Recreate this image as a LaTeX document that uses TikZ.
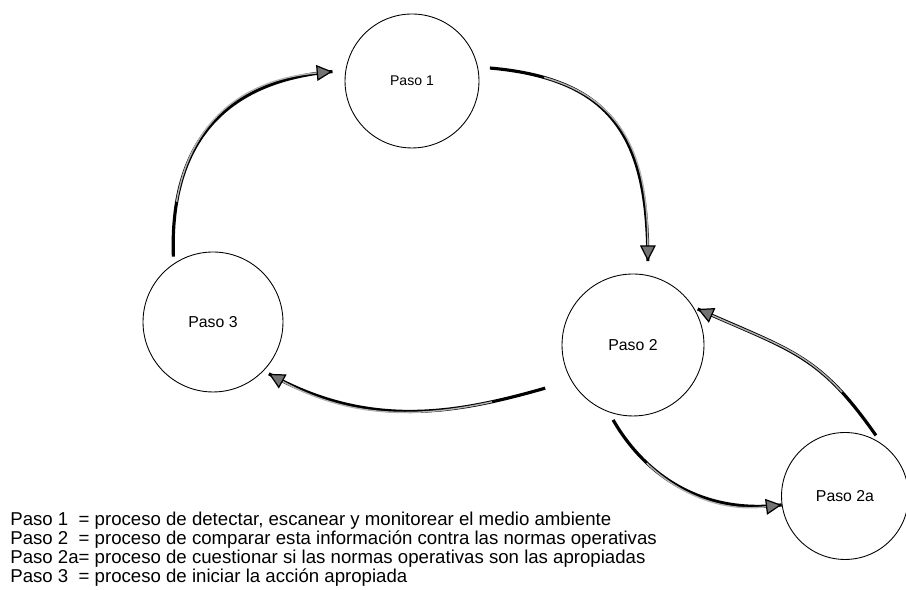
\documentclass[tikz,border=0pt]{standalone}
\usepackage{fontspec}
\setmainfont{Liberation Sans}
\usetikzlibrary{arrows.meta}

\begin{document}
\begin{tikzpicture}[x=0.02cm, y=0.02cm,
        paso/.style={draw, circle, line width=0.5pt, inner sep=0pt, font=\fontsize{9}{10}\selectfont},
        flow/.style={line width=1.8pt, draw=black,
            postaction={draw=gray!60, line width=0.8pt, dash pattern=on 0pt off 1.1cm on 30cm,
                -{Triangle[length=9pt, width=9pt, fill=black!55, color=black, line width=0.7pt]}}}]
        \useasboundingbox (0, 0) rectangle (906, 590);

        \node[paso, minimum size=2.68cm, font=\fontsize{8}{9}\selectfont] (p1) at (412, 509) {Paso 1};
        \node[paso, minimum size=2.84cm] (p2) at (633, 245) {Paso 2};
        \node[paso, minimum size=2.8cm] (p3) at (213, 268) {Paso 3};
        \node[paso, minimum size=2.54cm] (p2a) at (845, 94) {Paso 2a};

        \draw[flow, shorten <=0.14cm, shorten >=0.26cm] (p3.124) to[out=92, in=185, looseness=1.2] (p1.171);
        \draw[flow, shorten <=0.24cm, shorten >=0.28cm] (p1.12) to[out=-5, in=90, looseness=1.3] (p2.78);
        \draw[flow, shorten <=0.54cm, shorten >=0.12cm] (p2.210) to[out=196, in=-29] (p3.-44);
        \draw[flow, shorten <=0.18cm] (p2.250) to[out=-60, in=187] (p2a.188);
        \draw[flow, shorten <=0.2cm, shorten >=0.09cm] (p2a.55) to[out=125, in=-24, looseness=1.2] (p2.32);

        \node[anchor=north west, inner sep=0pt, font=\fontsize{10.6}{10}\selectfont] (legend) at (10, 78) {%
            \begin{tabular}{@{}l@{}l@{}}
                Paso 1\ & = proceso de detectar, escanear y monitorear el medio ambiente \\
                Paso 2\ & = proceso de comparar esta información contra las normas operativas \\
                Paso 2a & = proceso de cuestionar si las normas operativas son las apropiadas \\
                Paso 3\ & = proceso de iniciar la acción apropiada
            \end{tabular}};

    \end{tikzpicture}
\end{document}
